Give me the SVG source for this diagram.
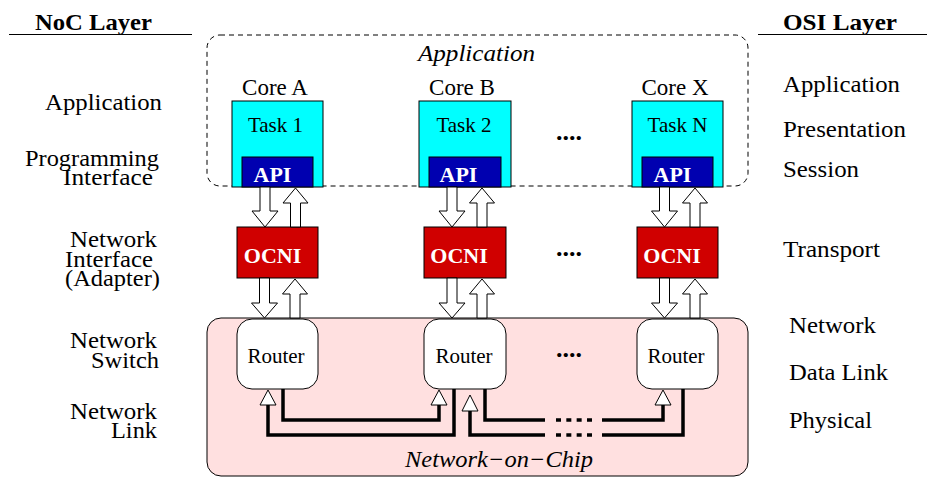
<svg xmlns="http://www.w3.org/2000/svg" width="927" height="477" viewBox="0 0 927 477">
  <style>
    text { font-family: "Liberation Serif", "Times New Roman", serif; fill: #000; }
    .lbl { font-size: 23px; }
    .hdr { font-size: 24px; font-weight: bold; }
    .core { font-size: 23px; text-anchor: middle; }
    .task { font-size: 21px; text-anchor: middle; }
    .wlbl { font-size: 22px; font-weight: bold; fill: #fff; text-anchor: middle; }
    .rtr { font-size: 21px; text-anchor: middle; }
    .ital { font-style: italic; text-anchor: middle; }
    .dots { font-size: 26px; font-weight: bold; }
    .cpu { fill: #00ffff; stroke: #000; stroke-width: 1; }
    .api { fill: #0000b0; stroke: #000; stroke-width: 1; }
    .ocni { fill: #d00000; stroke: #000; stroke-width: 1; }
    .router { fill: #fff; stroke: #000; stroke-width: 1; }
    .blk { fill: #fff; stroke: #000; stroke-width: 1; }
    .link { fill: none; stroke: #000; stroke-width: 3.5; stroke-linejoin: miter; }
    .gap { fill: none; stroke: #000; stroke-width: 3.5; stroke-dasharray: 5 5.33; }
  </style>

  <!-- layer headings -->
  <g id="headings">
    <text class="hdr" x="35" y="30" textLength="117" lengthAdjust="spacingAndGlyphs">NoC Layer</text>
    <line x1="9" y1="34.5" x2="192" y2="34.5" stroke="#000" stroke-width="1.2"/>
    <text class="hdr" x="783" y="30" textLength="114" lengthAdjust="spacingAndGlyphs">OSI Layer</text>
    <line x1="758" y1="34.5" x2="927" y2="34.5" stroke="#000" stroke-width="1.2"/>
  </g>

  <!-- NoC layer names (left column) -->
  <g id="noc-labels" class="lbl" lengthAdjust="spacingAndGlyphs">
    <text x="45" y="110" textLength="117" lengthAdjust="spacingAndGlyphs">Application</text>
    <text x="25" y="166" textLength="134" lengthAdjust="spacingAndGlyphs">Programming</text>
    <text x="63" y="185" textLength="90" lengthAdjust="spacingAndGlyphs">Interface</text>
    <text x="70" y="247" textLength="87" lengthAdjust="spacingAndGlyphs">Network</text>
    <text x="65" y="267" textLength="88" lengthAdjust="spacingAndGlyphs">Interface</text>
    <text x="65" y="286" textLength="95" lengthAdjust="spacingAndGlyphs">(Adapter)</text>
    <text x="70" y="348" textLength="87" lengthAdjust="spacingAndGlyphs">Network</text>
    <text x="91" y="368" textLength="68" lengthAdjust="spacingAndGlyphs">Switch</text>
    <text x="70" y="419" textLength="87" lengthAdjust="spacingAndGlyphs">Network</text>
    <text x="111" y="438" textLength="46" lengthAdjust="spacingAndGlyphs">Link</text>
  </g>

  <!-- OSI layer names (right column) -->
  <g id="osi-labels" class="lbl">
    <text x="783" y="92" textLength="117" lengthAdjust="spacingAndGlyphs">Application</text>
    <text x="783" y="137" textLength="123" lengthAdjust="spacingAndGlyphs">Presentation</text>
    <text x="783" y="177" textLength="76" lengthAdjust="spacingAndGlyphs">Session</text>
    <text x="783" y="257" textLength="97" lengthAdjust="spacingAndGlyphs">Transport</text>
    <text x="789" y="333" textLength="87" lengthAdjust="spacingAndGlyphs">Network</text>
    <text x="789" y="380" textLength="99" lengthAdjust="spacingAndGlyphs">Data Link</text>
    <text x="789" y="428" textLength="83" lengthAdjust="spacingAndGlyphs">Physical</text>
  </g>

  <!-- network-on-chip region -->
  <g id="noc">
    <rect x="207" y="318" width="541" height="158" rx="14" fill="#ffe0e0" stroke="#000" stroke-width="1"/>
    <text class="ital" x="499" y="467" font-size="23" textLength="188" lengthAdjust="spacingAndGlyphs">Network−on−Chip</text>
  </g>

  <!-- application region -->
  <g id="application">
    <rect x="207" y="35" width="541" height="151" rx="13" fill="none" stroke="#000" stroke-width="1" stroke-dasharray="5 4"/>
    <text class="ital" x="476.5" y="61" font-size="24" textLength="117" lengthAdjust="spacingAndGlyphs">Application</text>
  </g>

  <!-- cores -->
  <g id="core-a">
    <text class="core" x="275" y="95">Core A</text>
    <rect class="cpu" x="232" y="101" width="91" height="86"/>
    <text class="task" x="275.5" y="132">Task 1</text>
    <rect class="api" x="242" y="157" width="71" height="30"/>
    <text class="wlbl" x="272.5" y="182">API</text>
  </g>
  <g id="core-b">
    <text class="core" x="462" y="95">Core B</text>
    <rect class="cpu" x="419" y="101" width="92" height="86"/>
    <text class="task" x="464" y="132">Task 2</text>
    <rect class="api" x="429" y="157" width="72" height="30"/>
    <text class="wlbl" x="458.5" y="182">API</text>
  </g>
  <g id="core-x">
    <text class="core" x="675" y="95">Core X</text>
    <rect class="cpu" x="632" y="101" width="91" height="86"/>
    <text class="task" x="677.5" y="132">Task N</text>
    <rect class="api" x="642" y="157" width="71" height="30"/>
    <text class="wlbl" x="672.5" y="182">API</text>
  </g>

  <!-- network interfaces -->
  <g id="ocni-a">
    <rect class="ocni" x="237" y="227" width="81" height="51"/>
    <text class="wlbl" x="272.5" y="263">OCNI</text>
  </g>
  <g id="ocni-b">
    <rect class="ocni" x="424" y="227" width="82" height="51"/>
    <text class="wlbl" x="459" y="263">OCNI</text>
  </g>
  <g id="ocni-x">
    <rect class="ocni" x="637" y="227" width="81" height="51"/>
    <text class="wlbl" x="672" y="263">OCNI</text>
  </g>

  <!-- routers -->
  <g id="router-a">
    <rect class="router" x="237" y="319" width="81" height="70" rx="15"/>
    <text class="rtr" x="276" y="363">Router</text>
  </g>
  <g id="router-b">
    <rect class="router" x="424" y="319" width="82" height="70" rx="15"/>
    <text class="rtr" x="464" y="363">Router</text>
  </g>
  <g id="router-x">
    <rect class="router" x="637" y="319" width="81" height="70" rx="15"/>
    <text class="rtr" x="676" y="363">Router</text>
  </g>

  <!-- ellipses between columns -->
  <g id="ellipses" class="dots">
    <text x="556" y="140">....</text>
    <text x="556" y="256">....</text>
    <text x="556" y="357">....</text>
  </g>

  <!-- connectors -->
  <g id="connectors">
    <!-- API to OCNI (down) / OCNI to API (up) -->
    <polygon class="blk" points="260,187 270,187 270,211 278,211 265,227 252,211 260,211"/>
    <polygon class="blk" points="295.5,188 308,203 300.5,203 300.5,227 290.5,227 290.5,203 283,203"/>
    <polygon class="blk" points="447,187 457,187 457,211 465,211 452,227 439,211 447,211"/>
    <polygon class="blk" points="482,188 494.5,203 487,203 487,227 477,227 477,203 469.5,203"/>
    <polygon class="blk" points="659.5,187 669.5,187 669.5,211 677.5,211 664.5,227 651.5,211 659.5,211"/>
    <polygon class="blk" points="695,188 707.5,203 700,203 700,227 690,227 690,203 682.5,203"/>

    <!-- OCNI to router (down) / router to OCNI (up) -->
    <polygon class="blk" points="259.5,278 269.5,278 269.5,303 277.5,303 264.5,318 251.5,303 259.5,303"/>
    <polygon class="blk" points="295,279 307.5,294 300,294 300,318 290,318 290,294 282.5,294"/>
    <polygon class="blk" points="447,278 457,278 457,303 465,303 452,318 439,303 447,303"/>
    <polygon class="blk" points="482,279 494.5,294 487,294 487,318 477,318 477,294 469.5,294"/>
    <polygon class="blk" points="659.5,278 669.5,278 669.5,303 677.5,303 664.5,318 651.5,303 659.5,303"/>
    <polygon class="blk" points="695,279 707.5,294 700,294 700,318 690,318 690,294 682.5,294"/>

    <!-- physical links between routers -->
    <polyline class="link" points="454,389 454,435 268,435 268,405"/>
    <polyline class="link" points="283,389 283,420 439,420 439,405"/>
    <polyline class="link" points="485,389 485,420 545,420"/>
    <line class="gap" x1="556" y1="420" x2="592" y2="420"/>
    <polyline class="link" points="602,420 663,420 663,405"/>
    <polyline class="link" points="683,389 683,435 602,435"/>
    <line class="gap" x1="556" y1="435" x2="592" y2="435"/>
    <polyline class="link" points="545,435 470,435 470,411"/>

    <!-- link arrowheads -->
    <polygon class="blk" points="268,390 276,405 260,405"/>
    <polygon class="blk" points="439,390 447,405 431,405"/>
    <polygon class="blk" points="470,395 478,411 462,411"/>
    <polygon class="blk" points="663,390 671,405 655,405"/>
  </g>
</svg>
